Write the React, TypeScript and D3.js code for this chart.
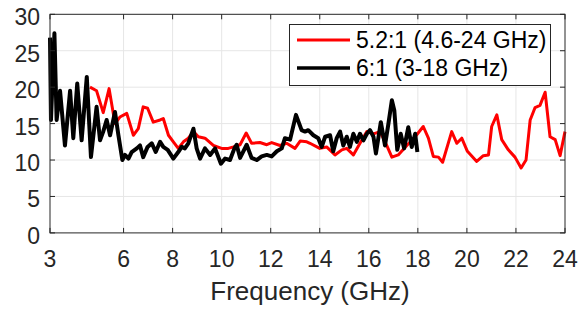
import * as d3 from 'd3';

// 5.2:1 design (4.6-24 GHz)
const redFreq = [4.63, 4.9, 5.17, 5.41, 5.65, 5.85, 6.13, 6.4, 6.6, 6.8, 6.98, 7.21, 7.49, 7.62, 7.83, 8.03, 8.23, 8.44, 8.64, 8.85, 9.05, 9.32, 9.66, 10.0, 10.27, 10.48, 10.75, 11.0, 11.22, 11.56, 11.84, 12.04, 12.38, 12.65, 12.99, 13.2, 13.47, 13.6, 14.0, 14.28, 14.62, 14.9, 15.1, 15.37, 15.64, 15.92, 16.19, 16.46, 16.73, 16.94, 17.2, 17.55, 17.89, 18.22, 18.43, 18.63, 18.84, 19.01, 19.38, 19.59, 19.79, 20.02, 20.4, 20.67, 20.88, 21.01, 21.22, 21.42, 21.69, 21.96, 22.21, 22.41, 22.58, 22.78, 22.98, 23.19, 23.39, 23.6, 23.8, 24.0];
const redVal = [20.0, 19.5, 16.5, 19.8, 15.0, 15.9, 16.4, 13.4, 14.3, 17.3, 17.1, 15.2, 15.5, 15.7, 13.4, 12.5, 11.6, 12.5, 13.0, 13.9, 13.2, 13.0, 12.0, 11.6, 11.6, 11.8, 12.1, 13.7, 12.3, 12.4, 12.1, 12.4, 12.0, 12.3, 11.6, 12.6, 12.5, 12.3, 11.6, 11.8, 10.7, 11.4, 11.6, 10.7, 12.3, 13.9, 13.6, 13.9, 12.0, 10.4, 10.7, 12.0, 13.2, 14.6, 13.0, 10.5, 10.4, 9.7, 13.9, 12.3, 13.0, 11.2, 9.8, 10.6, 10.7, 14.6, 16.2, 12.8, 11.4, 10.4, 8.9, 10.0, 15.5, 17.2, 17.5, 19.3, 13.2, 12.8, 10.6, 13.9];

// 6:1 design (3-18 GHz)
const blackFreq = [3.0, 3.04, 3.18, 3.27, 3.41, 3.61, 3.82, 3.95, 4.11, 4.29, 4.5, 4.67, 4.9, 5.04, 5.17, 5.31, 5.45, 5.65, 5.79, 5.95, 6.06, 6.2, 6.33, 6.54, 6.67, 6.8, 6.98, 7.15, 7.31, 7.49, 7.62, 7.8, 8.03, 8.23, 8.37, 8.5, 8.64, 8.85, 8.98, 9.12, 9.32, 9.53, 9.73, 9.97, 10.14, 10.34, 10.52, 10.61, 10.75, 11.02, 11.22, 11.43, 11.63, 11.84, 12.04, 12.25, 12.45, 12.58, 12.79, 13.03, 13.26, 13.4, 13.53, 13.74, 13.94, 14.08, 14.22, 14.42, 14.55, 14.69, 14.83, 14.96, 15.1, 15.23, 15.37, 15.51, 15.64, 15.78, 15.92, 16.05, 16.19, 16.29, 16.49, 16.66, 16.8, 16.94, 17.04, 17.16, 17.3, 17.44, 17.61, 17.75, 17.89, 17.98];
const blackVal = [26.8, 15.5, 27.4, 15.5, 19.5, 12.0, 19.5, 13.0, 20.5, 12.7, 21.4, 10.4, 17.3, 12.7, 13.9, 15.5, 13.4, 16.6, 13.4, 10.0, 10.7, 10.2, 11.1, 11.6, 12.0, 10.4, 11.8, 12.3, 11.1, 12.5, 11.8, 11.4, 10.2, 11.1, 11.8, 11.6, 12.3, 14.3, 11.6, 10.2, 11.6, 10.7, 11.6, 9.5, 10.2, 10.0, 11.6, 12.1, 10.3, 12.1, 10.3, 10.0, 10.5, 10.7, 10.5, 11.2, 11.6, 13.0, 12.8, 16.2, 14.1, 13.9, 14.1, 13.4, 13.0, 11.8, 13.2, 13.4, 11.2, 13.0, 13.9, 12.0, 13.2, 11.8, 13.6, 12.5, 13.6, 12.7, 13.6, 14.1, 13.2, 10.9, 15.2, 12.0, 15.0, 18.2, 16.8, 11.4, 13.6, 11.6, 14.5, 11.8, 13.6, 11.1];

const xTicks = [3, 6, 8, 10, 12, 14, 16, 18, 20, 22, 24];
const yTicks = [0, 5, 10, 15, 20, 25, 30];
const legendLabels = ['5.2:1 (4.6-24 GHz)', '6:1 (3-18 GHz)'];

const W = 581;
const H = 309;
const left = 50;
const right = 565;
const top = 14.3;
const bottom = 232.9;
const axisColor = '#262626';
const font = '"Liberation Sans", Arial, Helvetica, sans-serif';

export default function App() {
  const x = d3.scaleLinear().domain([3, 24]).range([left, right]);
  const y = d3.scaleLinear().domain([0, 30]).range([bottom, top]);

  const line = d3
    .line<[number, number]>()
    .x((d) => x(d[0]))
    .y((d) => y(d[1]));

  const red = redFreq.map((f, i) => [f, redVal[i]] as [number, number]);
  const black = blackFreq.map((f, i) => [f, blackVal[i]] as [number, number]);

  const tickLen = 5;

  return (
    <svg
      width={W}
      height={H}
      style={{ position: 'absolute', left: 0, top: 0, background: '#fff' }}
      fontFamily={font}
    >
      <rect width={W} height={H} fill="#fff" />

      {/* grid */}
      <g stroke="#e6e6e6" strokeWidth={1}>
        {yTicks.slice(1, -1).map((t) => (
          <line key={'gy' + t} x1={left} x2={right} y1={y(t)} y2={y(t)} />
        ))}
        {xTicks.slice(1, -1).map((t) => (
          <line key={'gx' + t} x1={x(t)} x2={x(t)} y1={top} y2={bottom} />
        ))}
      </g>

      {/* data */}
      <path d={line(red)!} fill="none" stroke="#ff0000" strokeWidth={3} strokeLinejoin="round" />
      <path d={line(black)!} fill="none" stroke="#000" strokeWidth={4} strokeLinejoin="round" />

      {/* box + ticks */}
      <rect x={left} y={top} width={right - left} height={bottom - top} fill="none" stroke={axisColor} strokeWidth={1} />
      <g stroke={axisColor} strokeWidth={1}>
        {xTicks.map((t) => (
          <g key={'tx' + t}>
            <line x1={x(t)} x2={x(t)} y1={bottom} y2={bottom - tickLen} />
            <line x1={x(t)} x2={x(t)} y1={top} y2={top + tickLen} />
          </g>
        ))}
        {yTicks.map((t) => (
          <g key={'ty' + t}>
            <line x1={left} x2={left + tickLen} y1={y(t)} y2={y(t)} />
            <line x1={right} x2={right - tickLen} y1={y(t)} y2={y(t)} />
          </g>
        ))}
      </g>

      {/* tick labels */}
      <g fill={axisColor} fontSize={23}>
        {xTicks.map((t) => (
          <text key={'lx' + t} x={x(t)} y={bottom + 34} textAnchor="middle">
            {t}
          </text>
        ))}
        {yTicks.map((t) => (
          <text key={'ly' + t} x={left - 10} y={y(t) + 11} textAnchor="end">
            {t}
          </text>
        ))}
      </g>
      <text x={310} y={300} textAnchor="middle" fontSize={26} fill={axisColor}>
        Frequency (GHz)
      </text>

      {/* legend */}
      <g>
        <rect x={289.5} y={24.5} width={261} height={61} fill="#fff" stroke={axisColor} strokeWidth={1} />
        {legendLabels.map((lab, i) => (
          <g key={lab} transform={`translate(0,${40 + i * 28})`}>
            <line x1={297} x2={350} y1={0} y2={0} stroke={i === 0 ? '#ff0000' : '#000'} strokeWidth={i === 0 ? 3 : 3.5} />
            <text x={356} y={8} fontSize={23} fill="#000">
              {lab}
            </text>
          </g>
        ))}
      </g>
    </svg>
  );
}
